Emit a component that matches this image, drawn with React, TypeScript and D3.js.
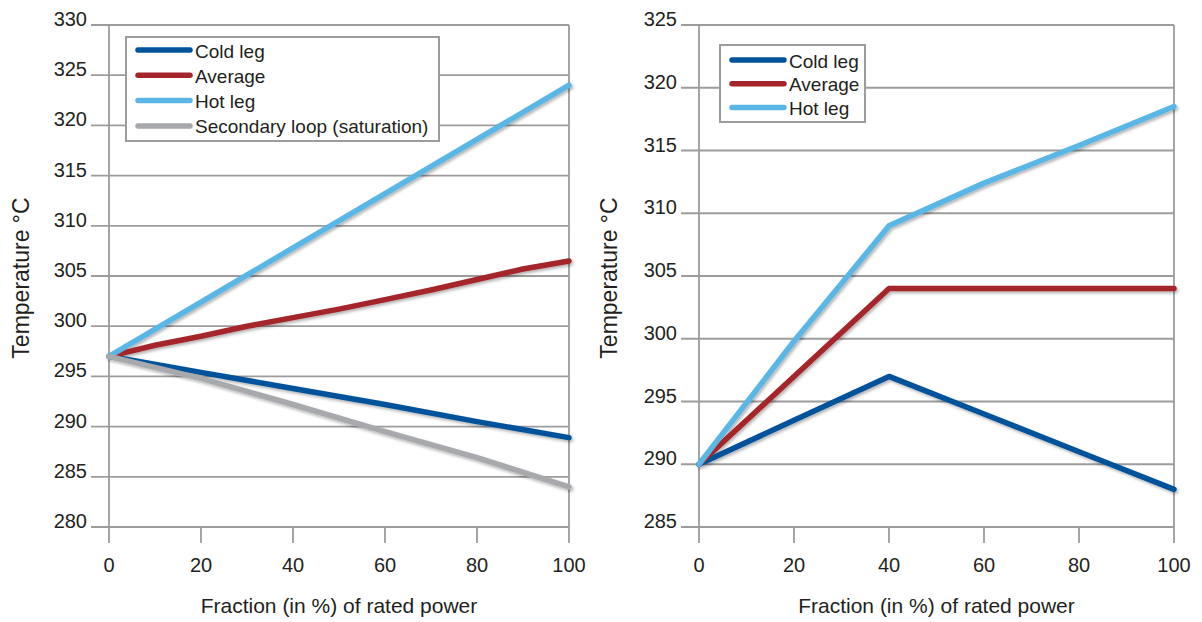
import React from "react";
import * as d3 from "d3";

// ---------- DATA ----------
const xTickValues = [0, 20, 40, 60, 80, 100];

const leftYTicks = [280, 285, 290, 295, 300, 305, 310, 315, 320, 325, 330];
const rightYTicks = [285, 290, 295, 300, 305, 310, 315, 320, 325];

// Left chart
const leftColdX = [0, 20, 40, 60, 80, 100];
const leftColdY = [297, 295.4, 293.8, 292.2, 290.5, 288.9];
const leftAvgX = [0, 10, 20, 30, 40, 50, 60, 70, 80, 90, 100];
const leftAvgY = [297, 298.1, 299.0, 300.0, 300.85, 301.7, 302.65, 303.6, 304.65, 305.7, 306.5];
const leftHotX = [0, 100];
const leftHotY = [297, 324];
const leftSecX = [0, 20, 40, 60, 80, 100];
const leftSecY = [297, 294.8, 292.2, 289.5, 286.9, 284];

// Right chart
const rightX = [0, 20, 40, 60, 80, 100];
const rightColdY = [290, 293.5, 297, 294, 291, 288];
const rightAvgY = [290, 297, 304, 304, 304, 304];
const rightHotY = [290, 299.8, 309, 312.4, 315.4, 318.5];

const seriesNames = ["Cold leg", "Average", "Hot leg", "Secondary loop (saturation)"];
const seriesColors = ["#00539b", "#a4252a", "#5ab6e4", "#a7a9ac"];

const xTitle = "Fraction (in %) of rated power";
const yTitle = "Temperature °C";

// ---------- STYLE ----------
const FONT = "'Liberation Sans', Arial, Helvetica, sans-serif";
const TEXT = "#231f20";
const GRID = "#9c9c9c";

type Series = { name: string; color: string; xs: number[]; ys: number[] };

type PanelProps = {
  x0: number;
  x1: number;
  yDomain: [number, number];
  yTicks: number[];
  series: Series[];
  legend: { x: number; y: number; w: number; h: number; rowY0: number; rowGap: number };
  yTitleX: number;
  id: string;
};

function Panel({ x0, x1, yDomain, yTicks, series, legend, yTitleX, id }: PanelProps) {
  const top = 25;
  const bottom = 527;
  const x = d3.scaleLinear().domain([0, 100]).range([x0, x1]);
  const y = d3.scaleLinear().domain(yDomain).range([bottom, top]);
  const line = d3
    .line<[number, number]>()
    .x((d) => x(d[0]))
    .y((d) => y(d[1]));
  const tickLen = 16;
  const gridLeft = x0 - 18;
  return (
    <g>
      {/* horizontal gridlines */}
      {yTicks.map((t) => (
        <g key={"y" + t}>
          <line x1={gridLeft} x2={x1} y1={y(t)} y2={y(t)} stroke={GRID} strokeWidth={1.8} />
          <text
            x={gridLeft - 4}
            y={y(t) + 1}
            textAnchor="end"
            fontFamily={FONT}
            fontSize={20}
            fill={TEXT}
          >
            {t}
          </text>
        </g>
      ))}
      {/* vertical axis lines and ticks */}
      {xTickValues.map((t) => {
        const isEdge = t === 0 || t === 100;
        return (
          <g key={"x" + t}>
            <line
              x1={x(t)}
              x2={x(t)}
              y1={isEdge ? top : bottom}
              y2={bottom + tickLen}
              stroke={GRID}
              strokeWidth={1.8}
            />
            <text x={x(t)} y={572} textAnchor="middle" fontFamily={FONT} fontSize={20} fill={TEXT}>
              {t}
            </text>
          </g>
        );
      })}
      {/* series */}
      <g filter={`url(#shadow-${id})`}>
        {series.map((s) => (
          <path
            key={s.name}
            d={line(s.xs.map((v, i) => [v, s.ys[i]] as [number, number])) || ""}
            fill="none"
            stroke={s.color}
            strokeWidth={5.5}
            strokeLinecap="round"
            strokeLinejoin="round"
          />
        ))}
      </g>
      {/* legend */}
      <rect
        x={legend.x}
        y={legend.y}
        width={legend.w}
        height={legend.h}
        fill="#fff"
        stroke={GRID}
        strokeWidth={2}
      />
      {series.map((s, i) => {
        const ly = legend.rowY0 + i * legend.rowGap;
        return (
          <g key={"lg" + s.name}>
            <line
              x1={legend.x + 12}
              x2={legend.x + 64}
              y1={ly}
              y2={ly}
              stroke={s.color}
              strokeWidth={5.5}
              strokeLinecap="round"
            />
            <text x={legend.x + 69} y={ly + 7.5} fontFamily={FONT} fontSize={19} fill={TEXT}>
              {s.name}
            </text>
          </g>
        );
      })}
      {/* titles */}
      <text
        x={(x0 + x1) / 2}
        y={613}
        textAnchor="middle"
        fontFamily={FONT}
        fontSize={21}
        fill={TEXT}
      >
        {xTitle}
      </text>
      <text
        transform={`translate(${yTitleX},${(top + bottom) / 2 + 2}) rotate(-90)`}
        textAnchor="middle"
        fontFamily={FONT}
        fontSize={23}
        fill={TEXT}
      >
        {yTitle}
      </text>
    </g>
  );
}

export default function App() {
  const leftSeries: Series[] = [
    { name: seriesNames[0], color: seriesColors[0], xs: leftColdX, ys: leftColdY },
    { name: seriesNames[1], color: seriesColors[1], xs: leftAvgX, ys: leftAvgY },
    { name: seriesNames[2], color: seriesColors[2], xs: leftHotX, ys: leftHotY },
    { name: seriesNames[3], color: seriesColors[3], xs: leftSecX, ys: leftSecY },
  ];
  const rightSeries: Series[] = [
    { name: seriesNames[0], color: seriesColors[0], xs: rightX, ys: rightColdY },
    { name: seriesNames[1], color: seriesColors[1], xs: rightX, ys: rightAvgY },
    { name: seriesNames[2], color: seriesColors[2], xs: rightX, ys: rightHotY },
  ];
  return (
    <svg
      width={1202}
      height={622}
      style={{ position: "absolute", left: 0, top: 0, background: "#fff" }}
    >
      <defs>
        {["l", "r"].map((k) => (
          <filter key={k} id={`shadow-${k}`} x="-10%" y="-10%" width="120%" height="120%">
            <feDropShadow dx={1.5} dy={2} stdDeviation={1.4} floodColor="#000" floodOpacity={0.3} />
          </filter>
        ))}
      </defs>
      <rect x={0} y={0} width={1202} height={622} fill="#fff" />
      <Panel
        id="l"
        x0={109}
        x1={569}
        yDomain={[280, 330]}
        yTicks={leftYTicks}
        series={leftSeries}
        legend={{ x: 126, y: 37, w: 313, h: 104, rowY0: 50, rowGap: 25.3 }}
        yTitleX={29}
      />
      <Panel
        id="r"
        x0={699}
        x1={1174}
        yDomain={[285, 325]}
        yTicks={rightYTicks}
        series={rightSeries}
        legend={{ x: 720, y: 45, w: 145, h: 77, rowY0: 60, rowGap: 23.7 }}
        yTitleX={617}
      />
    </svg>
  );
}
